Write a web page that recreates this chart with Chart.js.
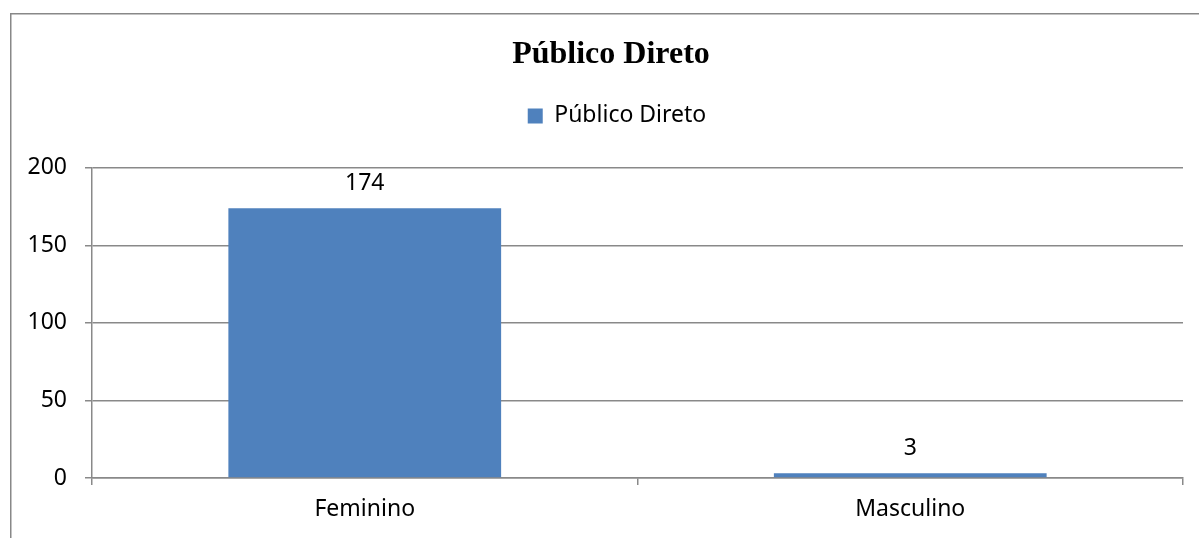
<!DOCTYPE html>
<html>
<head>
<meta charset="utf-8">
<title>Público Direto</title>
<script src="https://cdn.jsdelivr.net/npm/chart.js"></script>
<style>
    body { margin: 0; background: #fff; }
    #wrap { width: 1199px; height: 538px; }
</style>
</head>
<body>
<div id="wrap"><canvas id="chart" width="1199" height="538"></canvas></div>
<script>
// Data
const categories = ['Feminino', 'Masculino'];
const seriesName = 'Público Direto';
const values = [174, 3];
const yTicks = [0, 50, 100, 150, 200];

const gridColor = '#898989';
const barColor = '#4F81BD';
const sansFont = 'Noto Sans';

// Outer frame of the chart (only left and top edges are inside the picture)
const framePlugin = {
    id: 'frame',
    beforeDraw(chart) {
        const ctx = chart.ctx;
        ctx.save();
        ctx.strokeStyle = '#888888';
        ctx.lineWidth = 1.5;
        ctx.beginPath();
        ctx.moveTo(10.75, chart.height);
        ctx.lineTo(10.75, 13.75);
        ctx.lineTo(chart.width, 13.75);
        ctx.stroke();
        ctx.restore();
    }
};

// Value labels above each bar
const valueLabels = {
    id: 'valueLabels',
    afterDatasetsDraw(chart) {
        const ctx = chart.ctx;
        ctx.save();
        ctx.font = '23px "' + sansFont + '"';
        ctx.fillStyle = '#000';
        ctx.textAlign = 'center';
        ctx.textBaseline = 'middle';
        chart.getDatasetMeta(0).data.forEach((bar, i) => {
            ctx.fillText(values[i], bar.x, bar.y - 25);
        });
        ctx.restore();
    }
};

// Extra space between legend and plot area
const legendSpacer = {
    id: 'legendSpacer',
    beforeInit(chart) {
        const fitValue = chart.legend.fit;
        chart.legend.fit = function fit() {
            fitValue.bind(chart.legend)();
            this.height += 30.5;
        };
    },
    // the original chart frame is wider than the picture, so title and legend sit right of centre
    afterLayout(chart) {
        chart.titleBlock.left = 39;
        chart.legend.left = 51;
    }
};

new Chart(document.getElementById('chart'), {
    type: 'bar',
    data: {
        labels: categories,
        datasets: [{
            label: seriesName,
            data: values,
            backgroundColor: barColor,
            borderWidth: 0,
            categoryPercentage: 1,
            barPercentage: 0.5
        }]
    },
    options: {
        responsive: false,
        animation: false,
        layout: {
            padding: { top: 0, left: 0, right: 16, bottom: 0 }
        },
        plugins: {
            title: {
                display: true,
                text: 'Público Direto',
                color: '#000',
                font: { family: 'Liberation Serif', size: 32, weight: 'bold', lineHeight: 1.2 },
                padding: { top: 36, bottom: 20 }
            },
            legend: {
                display: true,
                position: 'top',
                labels: {
                    color: '#000',
                    boxWidth: 15,
                    boxHeight: 15,
                    padding: 10,
                    font: { family: sansFont, size: 23 }
                }
            },
            tooltip: { enabled: false }
        },
        scales: {
            x: {
                offset: true,
                border: { color: gridColor, width: 1.5 },
                grid: {
                    offset: true,
                    drawOnChartArea: false,
                    drawTicks: true,
                    tickLength: 7,
                    color: gridColor,
                    lineWidth: 1.5
                },
                ticks: {
                    color: '#000',
                    padding: 11,
                    font: { family: sansFont, size: 23 }
                },
                afterFit(scale) {
                    scale.height = 60;
                }
            },
            y: {
                min: 0,
                max: 200,
                border: { color: gridColor, width: 1.5 },
                grid: {
                    color: gridColor,
                    lineWidth: 1.5,
                    tickLength: 7
                },
                ticks: {
                    stepSize: 50,
                    color: '#000',
                    padding: 18,
                    font: { family: sansFont, size: 23 }
                },
                afterBuildTicks(scale) {
                    scale.ticks = yTicks.map(v => ({ value: v }));
                },
                afterFit(scale) {
                    scale.width = 92;
                }
            }
        }
    },
    plugins: [framePlugin, valueLabels, legendSpacer]
});
</script>
</body>
</html>
